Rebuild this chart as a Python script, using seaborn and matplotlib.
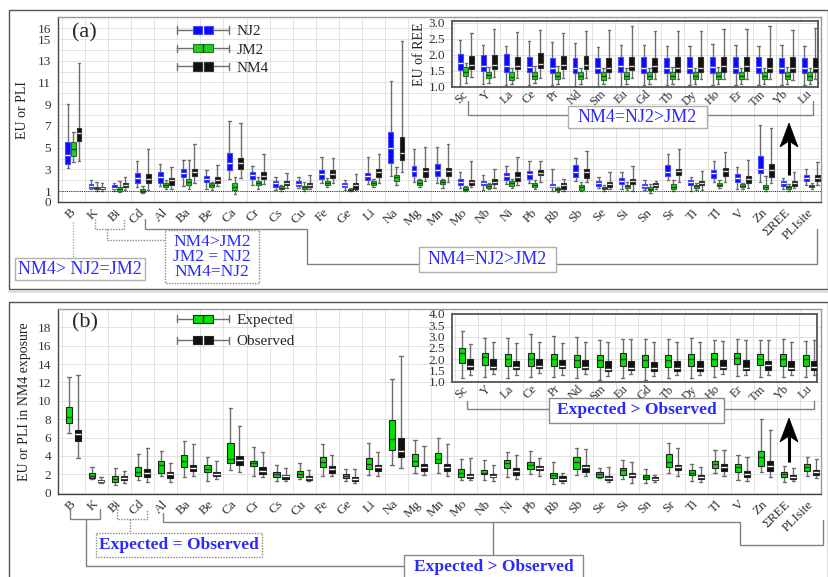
import matplotlib
matplotlib.use("Agg")
import matplotlib.pyplot as plt
import matplotlib.ticker as mticker
import pandas as pd
import seaborn as sns
from matplotlib.lines import Line2D
from matplotlib.patches import Rectangle, Patch, Polygon
from matplotlib.legend_handler import HandlerBase

# ---------------- data ----------------
elements = ["B", "K", "Bi", "Cd", "Al", "Ba", "Be", "Ca", "Cr", "Cs", "Cu", "Fe", "Ge", "Li", "Na",
            "Mg", "Mn", "Mo", "Nb", "Ni", "Pb", "Rb", "Sb", "Se", "Si", "Sn", "Sr", "Ti", "Tl", "V",
            "Zn", "ΣREE", "PLIsite"]
ree = ["Sc", "Y", "La", "Ce", "Pr", "Nd", "Sm", "Eu", "Gd", "Tb", "Dy", "Ho", "Er", "Tm", "Yb", "Lu"]
groups_a = ["NJ2", "JM2", "NM4"]
groups_b = ["Expected", "Observed"]

# five-number summaries: [min, Q1, median, Q3, max]
nj2 = [[3.13, 3.5, 4.3, 5.49, 9.02], [1.17, 1.29, 1.47, 1.69, 2.05], [1.0, 1.2, 1.33, 1.53, 1.78],
       [1.35, 1.76, 2.2, 2.64, 3.78], [1.47, 1.75, 2.33, 2.75, 3.5], [1.5, 2.33, 2.7, 3.04, 3.85],
       [1.18, 1.8, 2.12, 2.4, 2.97], [2.1, 2.97, 3.6, 4.48, 7.48], [1.54, 2.08, 2.46, 2.75, 3.3],
       [1.1, 1.42, 1.72, 1.93, 2.27], [1.26, 1.47, 1.69, 1.9, 2.27], [1.72, 2.15, 2.58, 2.97, 4.12],
       [1.1, 1.35, 1.53, 1.72, 2.04], [1.66, 2.03, 2.39, 2.7, 4.17], [2.35, 3.62, 5.0, 6.48, 11.15],
       [1.87, 2.39, 2.85, 3.28, 4.85], [1.78, 2.39, 2.92, 3.47, 5.03], [1.26, 1.53, 1.84, 2.15, 2.79],
       [1.1, 1.53, 1.78, 1.96, 2.49], [1.66, 2.03, 2.39, 2.7, 3.31], [1.72, 2.15, 2.55, 2.82, 3.8],
       [0.98, 1.38, 1.5, 1.63, 3.0], [1.96, 2.27, 2.76, 3.38, 4.08], [1.29, 1.5, 1.72, 1.93, 2.27],
       [1.23, 1.66, 1.93, 2.21, 2.76], [1.1, 1.29, 1.5, 1.66, 2.0], [2.03, 2.39, 2.79, 3.44, 4.45],
       [1.04, 1.56, 1.81, 2.0, 2.33], [1.84, 2.21, 2.64, 2.95, 3.8], [1.2, 1.85, 2.25, 2.56, 3.26],
       [1.88, 2.7, 3.05, 4.2, 7.12], [1.17, 1.47, 1.72, 1.93, 2.24], [1.53, 1.93, 2.21, 2.46, 3.04]]
jm2 = [[3.68, 4.24, 4.9, 5.56, 6.45], [1.04, 1.17, 1.26, 1.41, 1.87], [0.92, 1.04, 1.23, 1.41, 1.96],
       [0.8, 0.92, 1.0, 1.18, 1.45], [1.17, 1.35, 1.55, 1.78, 2.03], [1.2, 1.53, 1.81, 2.09, 3.84],
       [1.1, 1.35, 1.53, 1.72, 1.87], [0.74, 1.1, 1.35, 1.72, 2.3], [1.17, 1.53, 1.72, 1.93, 2.27],
       [1.04, 1.17, 1.29, 1.44, 1.53], [1.01, 1.2, 1.35, 1.5, 1.84], [1.35, 1.53, 1.78, 1.96, 2.18],
       [0.98, 1.04, 1.14, 1.23, 1.29], [1.35, 1.53, 1.72, 1.9, 2.15], [1.53, 1.96, 2.27, 2.52, 3.19],
       [1.35, 1.6, 1.78, 2.0, 2.15], [1.29, 1.63, 1.81, 2.0, 2.09], [0.98, 1.1, 1.23, 1.35, 1.44],
       [1.17, 1.32, 1.47, 1.63, 1.78], [1.29, 1.47, 1.72, 1.9, 2.09], [1.17, 1.35, 1.53, 1.72, 2.03],
       [0.92, 1.07, 1.2, 1.29, 1.41], [0.98, 1.14, 1.35, 1.53, 1.84], [1.04, 1.17, 1.29, 1.41, 1.53],
       [1.1, 1.29, 1.44, 1.6, 1.84], [0.86, 1.1, 1.23, 1.38, 1.63], [1.04, 1.2, 1.41, 1.66, 2.03],
       [1.1, 1.29, 1.44, 1.6, 1.72], [1.32, 1.44, 1.56, 1.72, 2.06], [1.23, 1.38, 1.5, 1.63, 1.75],
       [1.02, 1.17, 1.35, 1.56, 2.39], [1.04, 1.23, 1.35, 1.47, 1.63], [1.17, 1.35, 1.47, 1.6, 1.72]]
nm4 = [[3.8, 5.59, 6.38, 6.81, 12.77], [1.04, 1.17, 1.29, 1.41, 1.72], [1.1, 1.35, 1.6, 1.78, 2.33],
       [1.14, 1.7, 2.15, 2.58, 4.88], [1.17, 1.58, 2.0, 2.24, 3.26], [1.78, 2.36, 2.73, 3.04, 5.3],
       [1.47, 1.78, 2.03, 2.27, 3.42], [2.21, 3.02, 3.56, 4.04, 7.26], [1.66, 2.09, 2.39, 2.76, 4.39],
       [1.29, 1.53, 1.78, 1.96, 2.64], [1.23, 1.35, 1.6, 1.78, 2.46], [1.78, 2.18, 2.58, 2.92, 4.09],
       [1.07, 1.23, 1.53, 1.72, 2.58], [1.78, 2.33, 2.76, 3.07, 4.42], [2.73, 3.84, 4.54, 5.95, 14.86],
       [1.93, 2.33, 2.82, 3.1, 5.1], [1.87, 2.39, 2.85, 3.16, 5.34], [1.35, 1.6, 1.84, 2.03, 3.78],
       [1.32, 1.66, 1.87, 2.09, 3.07], [1.53, 1.96, 2.33, 2.73, 4.11], [1.84, 2.46, 2.7, 2.95, 3.74],
       [1.01, 1.23, 1.53, 1.78, 2.15], [1.84, 2.21, 2.76, 3.04, 4.73], [1.17, 1.38, 1.63, 1.84, 2.79],
       [1.04, 1.66, 1.93, 2.15, 3.31], [1.17, 1.35, 1.53, 1.72, 1.96], [1.81, 2.52, 2.82, 3.07, 4.91],
       [1.14, 1.53, 1.75, 1.96, 2.82], [1.84, 2.39, 2.82, 3.1, 4.63], [1.32, 1.72, 2.09, 2.39, 3.84],
       [1.75, 2.33, 2.95, 3.47, 6.8], [1.29, 1.5, 1.75, 1.96, 2.73], [1.57, 1.96, 2.21, 2.46, 3.65]]

nj2_ree = [[1.02, 1.52, 1.73, 2.01, 2.46], [1.08, 1.49, 1.66, 1.99, 2.3], [1.05, 1.45, 1.63, 2.01, 2.28],
           [1.05, 1.45, 1.6, 1.94, 2.43], [1.05, 1.42, 1.59, 1.91, 2.41], [1.03, 1.42, 1.59, 1.91, 2.35],
           [1.02, 1.42, 1.59, 1.91, 2.25], [1.03, 1.45, 1.66, 1.94, 2.3], [1.04, 1.44, 1.57, 1.92, 2.3],
           [1.04, 1.44, 1.57, 1.89, 2.27], [1.04, 1.44, 1.57, 1.92, 2.27], [1.04, 1.44, 1.6, 1.92, 2.33],
           [1.04, 1.44, 1.57, 1.92, 2.3], [1.04, 1.44, 1.6, 1.92, 2.27], [1.04, 1.44, 1.57, 1.89, 2.3],
           [1.04, 1.44, 1.57, 1.89, 2.27]]
jm2_ree = [[1.1, 1.33, 1.47, 1.6, 1.75], [1.1, 1.26, 1.36, 1.47, 1.6], [1.07, 1.21, 1.31, 1.45, 1.57],
           [1.1, 1.24, 1.34, 1.47, 1.63], [1.07, 1.23, 1.34, 1.47, 1.63], [1.07, 1.23, 1.34, 1.47, 1.59],
           [1.07, 1.21, 1.32, 1.45, 1.57], [1.07, 1.24, 1.34, 1.47, 1.57], [1.07, 1.23, 1.34, 1.46, 1.57],
           [1.08, 1.24, 1.34, 1.47, 1.6], [1.07, 1.23, 1.34, 1.46, 1.57], [1.07, 1.23, 1.34, 1.47, 1.6],
           [1.07, 1.23, 1.34, 1.46, 1.57], [1.07, 1.23, 1.33, 1.46, 1.57], [1.07, 1.23, 1.34, 1.46, 1.6],
           [1.07, 1.22, 1.33, 1.46, 1.57]]
nm4_ree = [[1.31, 1.54, 1.68, 1.97, 2.67], [1.31, 1.54, 1.68, 1.99, 2.79], [1.26, 1.54, 1.66, 1.94, 2.72],
           [1.26, 1.57, 1.7, 2.04, 2.76], [1.26, 1.54, 1.68, 1.97, 2.69], [1.28, 1.54, 1.68, 1.97, 2.74],
           [1.26, 1.45, 1.57, 1.91, 2.76], [1.26, 1.52, 1.63, 1.94, 2.88], [1.23, 1.47, 1.63, 1.89, 2.75],
           [1.23, 1.47, 1.57, 1.94, 2.75], [1.23, 1.47, 1.57, 1.92, 2.75], [1.23, 1.47, 1.63, 1.92, 2.79],
           [1.23, 1.5, 1.65, 1.92, 2.79], [1.23, 1.47, 1.57, 1.89, 2.9], [1.21, 1.47, 1.57, 1.92, 2.77],
           [1.23, 1.47, 1.57, 1.89, 2.82]]

expected = [[6.46, 7.55, 8.27, 9.36, 12.63], [1.49, 1.63, 1.85, 2.1, 2.83], [0.8, 1.12, 1.5, 1.83, 2.65],
            [1.35, 1.8, 2.3, 2.8, 4.17], [1.8, 2.18, 2.97, 3.4, 4.55], [1.74, 2.83, 3.48, 4.1, 5.66],
            [1.3, 2.25, 2.61, 3.01, 3.85], [2.47, 3.19, 3.63, 5.37, 9.18], [1.81, 2.9, 3.19, 3.45, 4.93],
            [1.31, 1.67, 2.03, 2.29, 2.98], [1.45, 1.67, 2.03, 2.36, 3.19], [1.85, 2.83, 3.37, 3.92, 5.3],
            [1.31, 1.56, 1.81, 2.0, 2.58], [1.89, 2.54, 3.1, 3.74, 5.42], [3.01, 4.64, 5.81, 7.91, 12.34],
            [2.18, 2.94, 3.5, 4.17, 5.73], [2.1, 3.19, 3.66, 4.28, 5.99], [1.38, 1.74, 2.14, 2.58, 3.63],
            [1.38, 2.0, 2.2, 2.47, 3.56], [1.74, 2.65, 3.19, 3.56, 4.39], [2.03, 2.54, 3.01, 3.3, 4.57],
            [0.94, 1.63, 1.89, 2.1, 3.34], [1.92, 2.58, 3.37, 3.85, 4.9], [1.56, 1.74, 2.07, 2.29, 2.72],
            [1.45, 1.92, 2.43, 2.72, 3.59], [1.02, 1.45, 1.74, 1.92, 2.58], [2.1, 2.83, 3.37, 4.17, 5.44],
            [1.27, 1.92, 2.18, 2.47, 3.12], [2.1, 2.65, 3.12, 3.45, 4.61], [1.38, 2.29, 2.76, 3.12, 4.06],
            [2.29, 2.9, 3.92, 4.54, 7.98], [1.12, 1.74, 2.03, 2.25, 2.9], [1.85, 2.36, 2.76, 3.08, 3.92]]
observed = nm4

expected_ree = [[1.15, 1.84, 2.26, 2.51, 3.26], [1.22, 1.74, 2.11, 2.29, 2.95], [1.15, 1.69, 2.03, 2.23, 2.92],
                [1.19, 1.69, 2.03, 2.29, 3.1], [1.19, 1.69, 1.99, 2.21, 3.02], [1.15, 1.64, 1.96, 2.17, 2.96],
                [1.1, 1.66, 1.96, 2.2, 2.85], [1.15, 1.69, 2.03, 2.26, 2.88], [1.1, 1.66, 1.96, 2.18, 2.88],
                [1.15, 1.66, 1.96, 2.17, 2.88], [1.15, 1.69, 1.99, 2.21, 2.92], [1.19, 1.69, 2.03, 2.26, 2.85],
                [1.25, 1.78, 2.06, 2.26, 2.9], [1.19, 1.74, 2.03, 2.23, 2.85], [1.19, 1.69, 2.03, 2.21, 2.88],
                [1.19, 1.69, 1.99, 2.17, 2.82]]
observed_ree = [[1.3, 1.55, 1.69, 1.99, 2.67], [1.34, 1.55, 1.66, 1.99, 2.77], [1.3, 1.55, 1.66, 1.93, 2.7],
                [1.37, 1.59, 1.69, 2.03, 2.74], [1.3, 1.59, 1.69, 1.96, 2.7], [1.34, 1.55, 1.66, 1.96, 2.74],
                [1.25, 1.49, 1.58, 1.9, 2.74], [1.34, 1.52, 1.62, 1.93, 2.88], [1.25, 1.49, 1.59, 1.89, 2.74],
                [1.3, 1.49, 1.59, 1.93, 2.74], [1.3, 1.49, 1.59, 1.93, 2.74], [1.34, 1.55, 1.66, 1.96, 2.8],
                [1.3, 1.52, 1.62, 1.96, 2.85], [1.3, 1.52, 1.74, 1.93, 2.85], [1.3, 1.52, 1.59, 1.93, 2.77],
                [1.3, 1.52, 1.66, 1.93, 2.85]]

yticks_a = [0, 1, 3, 5, 7, 9, 11, 13, 15, 16]
yticks_b = [0, 2, 4, 6, 8, 10, 12, 14, 16, 18]
yticks_ai = [1.0, 1.5, 2.0, 2.5, 3.0]
yticks_bi = [1.0, 1.5, 2.0, 2.5, 3.0, 3.5, 4.0]

# ---------------- style ----------------
sns.set_style("white")
plt.rcParams["font.family"] = ["Liberation Serif", "DejaVu Serif"]

BLUE_TXT = "#2a2aff"
WHISK = "#6e6e6e"
sty_a = [dict(face="#0a0aff", edge="#4a4aff", med="#ffffff"),
         dict(face="#1fd01f", edge="#2a6e2a", med="#1c401c"),
         dict(face="#111111", edge="#333333", med="#d8d8d8")]
sty_b = [dict(face="#00e400", edge="#222222", med="#333333"),
         dict(face="#111111", edge="#222222", med="#ffffff")]

W, H = 829, 577
fig = plt.figure(figsize=(W / 100, H / 100), dpi=100)


def fr(l, t, r, b):
    return [l / W, 1 - b / H, (r - l) / W, (b - t) / H]


axA = fig.add_axes(fr(58, 17.3, 821, 202.5))
axAi = fig.add_axes(fr(452, 21, 818, 87))
axB = fig.add_axes(fr(58, 309, 821, 494))
axBi = fig.add_axes(fr(452, 314, 817, 382))


def to_long(cats, series):
    rows = []
    for g, summaries in series.items():
        for c, s in zip(cats, summaries):
            for v in s:
                rows.append((c, g, v))
    return pd.DataFrame(rows, columns=["element", "group", "value"])


def draw(ax, cats, series, width, gap, styles):
    df = to_long(cats, series)
    order = list(series.keys())
    sns.boxplot(data=df, x="element", y="value", hue="group", order=cats, hue_order=order,
                palette=[s["face"] for s in styles], saturation=1, width=width, gap=gap,
                whis=(0, 100), linewidth=0.9, linecolor=WHISK, fliersize=0, legend=False, ax=ax)
    for cont, st in zip(ax.containers, styles):
        for b in cont.boxes:
            b.set_facecolor(st["face"])
            b.set_edgecolor(st["edge"])
            b.set_linewidth(0.8)
            b.set_zorder(3)
        for m in cont.medians:
            m.set_color(st["med"])
            m.set_linewidth(1.0)
            m.set_zorder(4)
        for w in list(cont.whiskers) + list(cont.caps):
            w.set_color(WHISK)
            w.set_linewidth(1.0)


def fmt_axes(ax, cats, xlim, ylim, yticks, minor=None, labelsize=9.5, ticksize=9.5, xpad=6,
             spine_col="#444444", frame_col="#9a9a9a", ytfmt=None):
    ax.set_xlim(*xlim)
    ax.set_ylim(*ylim)
    ax.set_xlabel("")
    ax.set_ylabel("")
    ax.set_yticks(yticks)
    if ytfmt:
        ax.set_yticklabels([ytfmt.format(v) for v in yticks])
    if minor:
        ax.yaxis.set_minor_locator(mticker.MultipleLocator(minor))
    ax.set_xticks(range(len(cats)))
    ax.set_xticklabels(cats)
    ax.xaxis.set_minor_locator(mticker.FixedLocator([i + 0.5 for i in range(-1, len(cats))]))
    ax.set_axisbelow(True)
    ax.grid(True, axis="y", which="both" if minor else "major", color="#dedede", lw=0.6)
    ax.grid(True, axis="x", which="minor", color="#dedede", lw=0.6)
    ax.tick_params(axis="x", which="both", length=0, pad=xpad, labelsize=labelsize)
    ax.tick_params(axis="y", which="major", direction="out", length=3, width=0.8,
                   color=spine_col, pad=2, labelsize=ticksize, labelcolor="#333333")
    ax.tick_params(axis="y", which="minor", direction="out", length=2, width=0.6, color=spine_col)
    for lbl in ax.get_xticklabels():
        lbl.set_rotation(45)
        lbl.set_ha("right")
        lbl.set_va("center")
        lbl.set_rotation_mode("anchor")
        lbl.set_color("#333333")
    for s in ["left", "bottom"]:
        ax.spines[s].set_color(spine_col)
        ax.spines[s].set_linewidth(1.0)
    for s in ["top", "right"]:
        ax.spines[s].set_color(frame_col)
        ax.spines[s].set_linewidth(1.0)


# ---- panel (a) ----
draw(axA, elements, {"NJ2": nj2, "JM2": jm2, "NM4": nm4}, 0.72, 0.1, sty_a)
fmt_axes(axA, elements, (-0.67, 32.4), (-0.05, 17.0), yticks_a, minor=1)
axA.axhline(1, color="#222222", ls=(0, (1, 1.2)), lw=0.7, zorder=2)
axA.set_ylabel("EU or PLI", fontsize=10, labelpad=6, color="#222222")
axA.text(0.018, 0.915, "(a)", transform=axA.transAxes, fontsize=16, va="center", ha="left")

draw(axAi, ree, {"NJ2": nj2_ree, "JM2": jm2_ree, "NM4": nm4_ree}, 0.72, 0.1, sty_a)
fmt_axes(axAi, ree, (-0.6, 15.35), (0.99, 3.05), yticks_ai, ytfmt="{:.1f}", labelsize=9, xpad=4,
         spine_col="#555555", frame_col="#555555")
axAi.axhline(1.0, color="#222222", ls=(0, (1, 1.2)), lw=0.7, zorder=2)
axAi.set_ylabel("EU of REE", fontsize=10, labelpad=2, color="#222222")
for s in axAi.spines.values():
    s.set_linewidth(1.3)

# ---- panel (b) ----
draw(axB, elements, {"Expected": expected, "Observed": observed}, 0.78, 0.3, sty_b)
fmt_axes(axB, elements, (-0.67, 32.4), (-0.14, 20.0), yticks_b)
axB.set_ylabel("EU or PLI in NM4 exposure", fontsize=10, labelpad=5, color="#222222")
axB.text(0.018, 0.924, "(b)", transform=axB.transAxes, fontsize=16, va="center", ha="left")

draw(axBi, ree, {"Expected": expected_ree, "Observed": observed_ree}, 0.73, 0.28, sty_b)
fmt_axes(axBi, ree, (-0.62, 15.3), (0.99, 4.0), yticks_bi, ytfmt="{:.1f}", labelsize=9, xpad=4,
         spine_col="#555555", frame_col="#555555")
for s in axBi.spines.values():
    s.set_linewidth(1.3)


# ---- legends with box-shaped handles ----
class BoxHandler(HandlerBase):
    def __init__(self, st):
        super().__init__()
        self.st = st

    def create_artists(self, legend, orig_handle, xdescent, ydescent, width, height, fontsize, trans):
        cy = height / 2 - ydescent
        x0, x1 = -xdescent, -xdescent + width
        xc = (x0 + x1) / 2
        bw, bh = width * 0.40, height * 0.72
        arts = [Line2D([x0, x1], [cy, cy], color=WHISK, lw=1.0),
                Line2D([x0, x0], [cy - bh * 0.45, cy + bh * 0.45], color=WHISK, lw=1.0),
                Line2D([x1, x1], [cy - bh * 0.45, cy + bh * 0.45], color=WHISK, lw=1.0),
                Rectangle((xc - bw / 2, cy - bh / 2), bw, bh, facecolor=self.st["face"],
                          edgecolor=self.st["edge"], lw=0.8),
                Line2D([xc, xc], [cy - bh / 2, cy + bh / 2], color=self.st["med"], lw=1.0)]
        for a in arts:
            a.set_transform(trans)
        return arts


def box_legend(ax, labels, styles, anchor, spacing):
    handles = [Patch(label=l) for l in labels]
    hmap = {h: BoxHandler(s) for h, s in zip(handles, styles)}
    leg = ax.legend(handles, labels, handler_map=hmap, loc="upper left", bbox_to_anchor=anchor,
                    frameon=False, fontsize=11, handlelength=3.4, handleheight=0.75,
                    handletextpad=0.5, labelspacing=spacing, borderpad=0, borderaxespad=0)
    return leg


box_legend(axA, groups_a, sty_a, ((177 - 58) / 763, (202.5 - 24.5) / 185.2), 0.28)
box_legend(axB, groups_b, sty_b, ((177 - 58) / 763, (494 - 313) / 185), 0.5)

# ---------------- annotation overlay (pixel coordinates) ----------------
ov = fig.add_axes([0, 0, 1, 1], zorder=20)
ov.set_xlim(0, W)
ov.set_ylim(H, 0)
ov.axis("off")
ov.patch.set_alpha(0)

GRAY = "#808080"
LGRAY = "#b0b0b0"


def path(xs, ys, color=GRAY, ls="-", lw=1.0):
    ov.plot(xs, ys, color=color, ls=ls, lw=lw, solid_joinstyle="miter")


def tbox(l, t, r, b, ls="-", ec=LGRAY):
    ov.add_patch(Rectangle((l, t), r - l, b - t, fill=True, facecolor="white", edgecolor=ec,
                           lw=1.0, ls=ls, zorder=3))


def ttext(x, y, s, size=13, weight="normal", linespacing=1.2):
    ov.text(x, y, s, ha="center", va="center", fontsize=size, color=BLUE_TXT, weight=weight,
            zorder=4, linespacing=linespacing, multialignment="center")


def arrow(x, tip, back, notch, tail):
    ov.plot([x, x], [notch, tail], color="black", lw=2.2, solid_capstyle="butt")
    ov.add_patch(Polygon([(x, tip), (x + 9, back), (x, notch), (x - 9, back)], closed=True,
                         facecolor="black", edgecolor="black", lw=0.5))


# outer panel frames
ov.add_patch(Rectangle((9, 10), 819, 279, fill=False, edgecolor="#555555", lw=1.0))
ov.add_patch(Rectangle((9, 302), 819, 280, fill=False, edgecolor="#555555", lw=1.0))
ov.plot([9, 828], [291, 291], color="#dddddd", lw=2)

# panel (a) annotations
path([73, 73], [222, 258], color=LGRAY, ls=(0, (1, 1)))
tbox(15, 258, 145, 280)
ttext(80, 269.5, "NM4> NJ2=JM2")
path([95, 95, 124, 124], [219, 229, 229, 219], color="#8a8a8a", ls=(0, (1, 1)))
path([107, 107, 165], [229, 240, 240], color="#8a8a8a", ls=(0, (1, 1)))
tbox(165, 230, 259, 283, ls=(0, (1, 1)), ec="#8a8a8a")
ttext(212, 257, "NM4>JM2\nJM2 = NJ2\nNM4=NJ2", size=12.5, linespacing=0.95)
path([145, 145, 307, 307, 419], [219, 229, 229, 264, 264])
tbox(419, 247, 556, 272)
ttext(487.5, 260, "NM4=NJ2>JM2")
path([556, 817, 817], [264, 264, 229])
path([468, 468, 568], [101, 115, 115])
tbox(568, 106, 707, 128)
ttext(637.5, 117.5, "NM4=NJ2>JM2")
path([707, 813, 813], [115, 115, 101])
arrow(789, 123, 147, 141, 175)

# panel (b) annotations
path([70, 70, 100, 100], [509, 519, 519, 509])
path([86, 86, 404], [519, 566, 566])
path([117, 117, 147, 147], [509, 519, 519, 509], color="#8a8a8a", ls=(0, (1, 1)))
path([130, 130], [519, 533], color="#8a8a8a", ls=(0, (1, 1)))
tbox(96, 533, 262, 557, ls=(0, (1, 1)), ec="#8a8a8a")
ttext(179, 545, "Expected = Observed", size=12.5, weight="bold")
path([163, 163, 740, 740, 823, 823], [513, 522, 522, 545, 545, 520])
path([493, 493], [522, 555])
tbox(404, 555, 583, 580, ec="#8a8a8a")
ttext(493.5, 567, "Expected > Observed", size=12.5, weight="bold")
path([467, 467, 549], [401, 409, 409])
tbox(549, 398, 724, 423, ec="#8a8a8a")
ttext(636.5, 410.5, "Expected > Observed", size=12.5, weight="bold")
path([724, 814, 814], [409, 409, 401])
arrow(789, 418, 442, 436, 462)

fig.savefig("out.png", dpi=100)
